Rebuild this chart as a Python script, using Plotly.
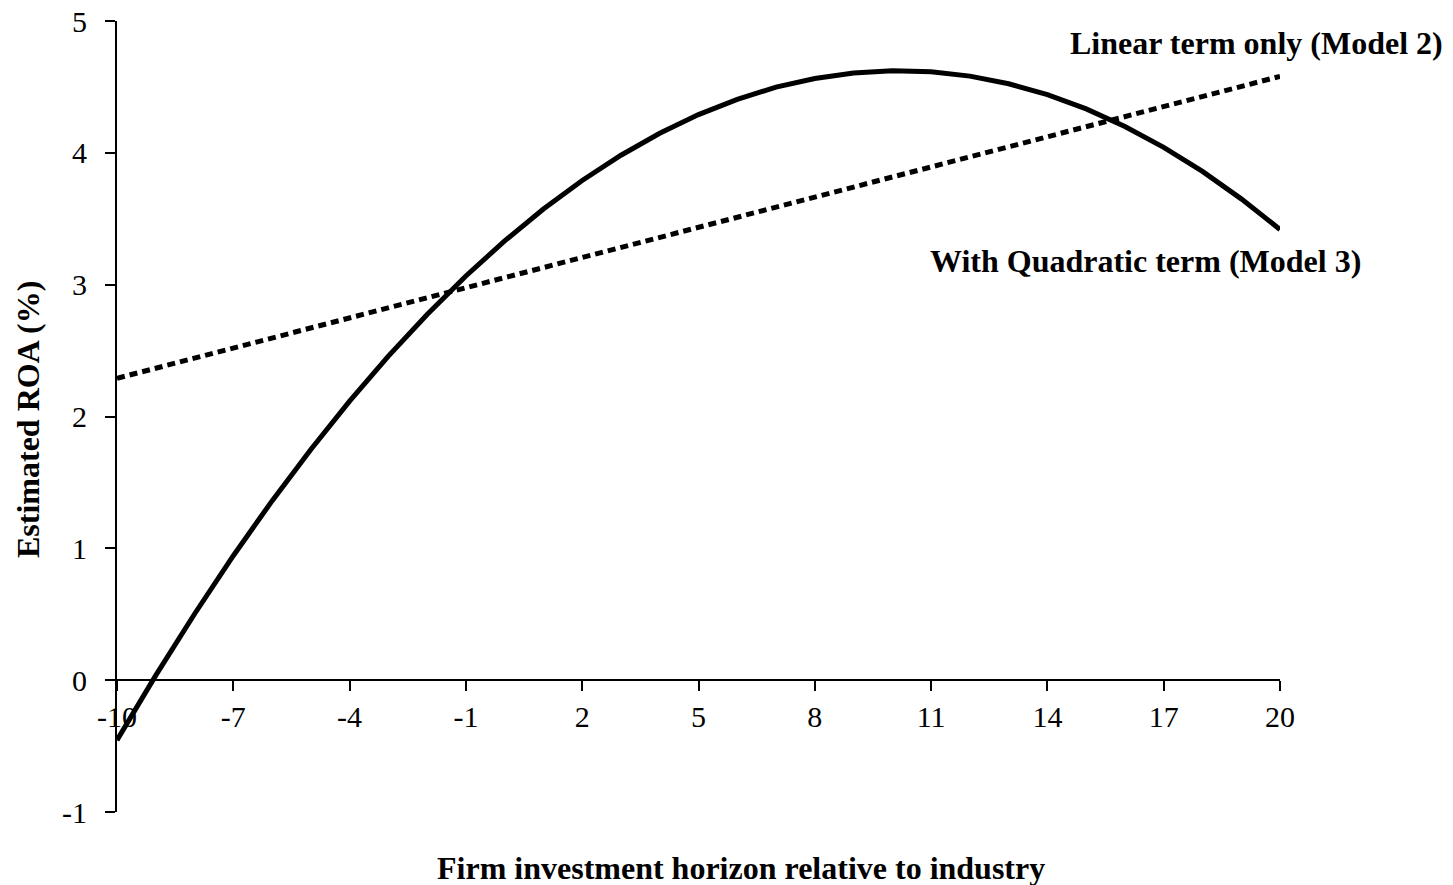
import plotly.graph_objects as go

# Data
x_quad = list(range(-10, 21))
y_quad = [-0.455, 0.036, 0.502, 0.944, 1.360, 1.750, 2.116, 2.458, 2.774, 3.066,
          3.332, 3.574, 3.790, 3.982, 4.148, 4.290, 4.406, 4.498, 4.564, 4.606,
          4.623, 4.615, 4.582, 4.524, 4.441, 4.333, 4.200, 4.042, 3.859, 3.651,
          3.419]
x_lin = [-10, 20]
y_lin = [2.29, 4.58]

x_ticks = [-10, -7, -4, -1, 2, 5, 8, 11, 14, 17, 20]
y_ticks = [-1, 0, 1, 2, 3, 4, 5]

label_linear = "Linear term only (Model 2)"
label_quad = "With Quadratic term (Model 3)"
x_title = "Firm investment horizon relative to industry"
y_title = "Estimated ROA (%)"

FONT = "Liberation Serif"
TICK_SIZE = 30
LABEL_SIZE = 32

fig = go.Figure()
fig.add_trace(go.Scatter(x=x_lin, y=y_lin, mode="lines",
                         line=dict(color="black", width=5, dash="8px,5px"),
                         showlegend=False, hoverinfo="skip"))
fig.add_trace(go.Scatter(x=x_quad, y=y_quad, mode="lines",
                         line=dict(color="black", width=5),
                         showlegend=False, hoverinfo="skip"))

axis_common = dict(showline=True, linecolor="black", linewidth=2,
                   ticks="outside", ticklen=10, tickwidth=2, tickcolor="black",
                   showgrid=False, zeroline=False, automargin=False,
                   tickfont=dict(family=FONT, size=TICK_SIZE, color="black"))

fig.update_layout(
    width=1453, height=885, autosize=False,
    margin=dict(l=117, r=173, t=21, b=73, pad=0, autoexpand=False),
    plot_bgcolor="white", paper_bgcolor="white",
    showlegend=False,
    xaxis=dict(range=[-10, 20], tickvals=x_ticks, ticktext=[str(v) for v in x_ticks],
               anchor="free", position=1/6, **axis_common),
    yaxis=dict(range=[-1, 5], tickvals=y_ticks, ticktext=[str(v) for v in y_ticks],
               ticklabelstandoff=12, **axis_common),
    annotations=[
        dict(text="<b>%s</b>" % label_linear, xref="paper", yref="paper",
             x=1.142, y=0.972, xanchor="right", yanchor="middle", showarrow=False,
             font=dict(family=FONT, size=LABEL_SIZE, color="black")),
        dict(text="<b>%s</b>" % label_quad, xref="paper", yref="paper",
             x=0.884, y=0.6966, xanchor="center", yanchor="middle", showarrow=False,
             font=dict(family=FONT, size=LABEL_SIZE, color="black")),
        dict(text="<b>%s</b>" % x_title, xref="paper", yref="paper",
             x=0.5365, y=-0.0708, xanchor="center", yanchor="middle", showarrow=False,
             font=dict(family=FONT, size=LABEL_SIZE, color="black")),
        dict(text="<b>%s</b>" % y_title, xref="paper", yref="paper",
             x=-0.0765, y=0.4956, xanchor="center", yanchor="middle", showarrow=False,
             textangle=-90, font=dict(family=FONT, size=LABEL_SIZE, color="black")),
    ],
)

fig.write_html("out.html", config={"displayModeBar": False},
               post_script="document.body.style.margin='0';document.body.style.overflow='hidden';")
